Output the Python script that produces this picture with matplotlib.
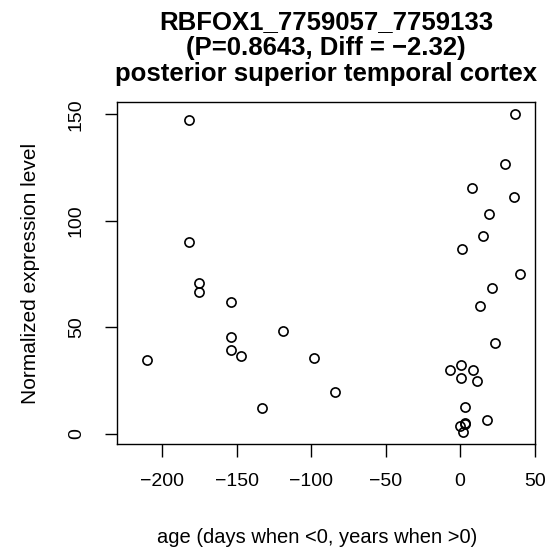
import matplotlib
matplotlib.use("Agg")
import matplotlib.pyplot as plt

plt.rcParams['font.family'] = ['Liberation Sans', 'DejaVu Sans']

# ages: days when <0, years when >0
age = [-209.8, -182.1, -182.1, -175.0, -175.0, -153.9, -153.9, -153.9, -146.8,
       -132.9, -119.1, -97.8, -83.7,
       37.0, 30.1, 8.2, 36.1, 19.1, 15.3, 1.2, 40.4, 21.4, 13.1, 23.1,
       0.8, -7.0, 8.4, 0.6, 11.1, 3.2, 18.0, 3.5, 3.1, -0.3, 2.2]
expr = [34.8, 147.2, 90.0, 70.6, 66.4, 61.7, 45.6, 39.5, 36.3,
        11.9, 48.1, 35.4, 19.7,
        150.0, 126.8, 115.4, 111.2, 103.4, 93.0, 86.6, 74.9, 68.4, 60.1, 42.4,
        32.4, 30.1, 30.0, 26.2, 24.6, 12.7, 6.4, 5.2, 4.4, 3.6, 1.0]

x_ticks = [-200, -150, -100, -50, 0, 50]
y_ticks = [0, 50, 100, 150]

fig = plt.figure(figsize=(5.59, 5.53), dpi=100)
ax = fig.add_axes([0.2088, 0.1966, 0.7482, 0.619])

ax.plot(age, expr, linestyle='none', marker='o', markersize=6.6,
        markerfacecolor='none', markeredgecolor='black', markeredgewidth=1.2)

ax.set_xlim(-230.4, 50.2)
ax.set_ylim(-5.0, 155.8)
ax.set_xticks(x_ticks)
ax.set_yticks(y_ticks)
ax.set_yticklabels([str(v) for v in y_ticks], rotation=90, va='center')

for s in ax.spines.values():
    s.set_linewidth(1.0)
ax.tick_params(length=9, width=1.0, labelsize=14, direction='out')
ax.tick_params(axis='x', pad=12)
ax.tick_params(axis='y', pad=14)

ax.set_title("RBFOX1_7759057_7759133\n(P=0.8643, Diff = \u22122.32)\nposterior superior temporal cortex",
             fontsize=18.5, fontweight='bold', linespacing=1.1, pad=15)
ax.set_xlabel("age (days when <0, years when >0)", fontsize=14.5)
ax.xaxis.set_label_coords(0.479, -0.245)
ax.set_ylabel("Normalized expression level", fontsize=15)
ax.yaxis.set_label_coords(-0.183, 0.5)

fig.savefig("out.png", dpi=100)
